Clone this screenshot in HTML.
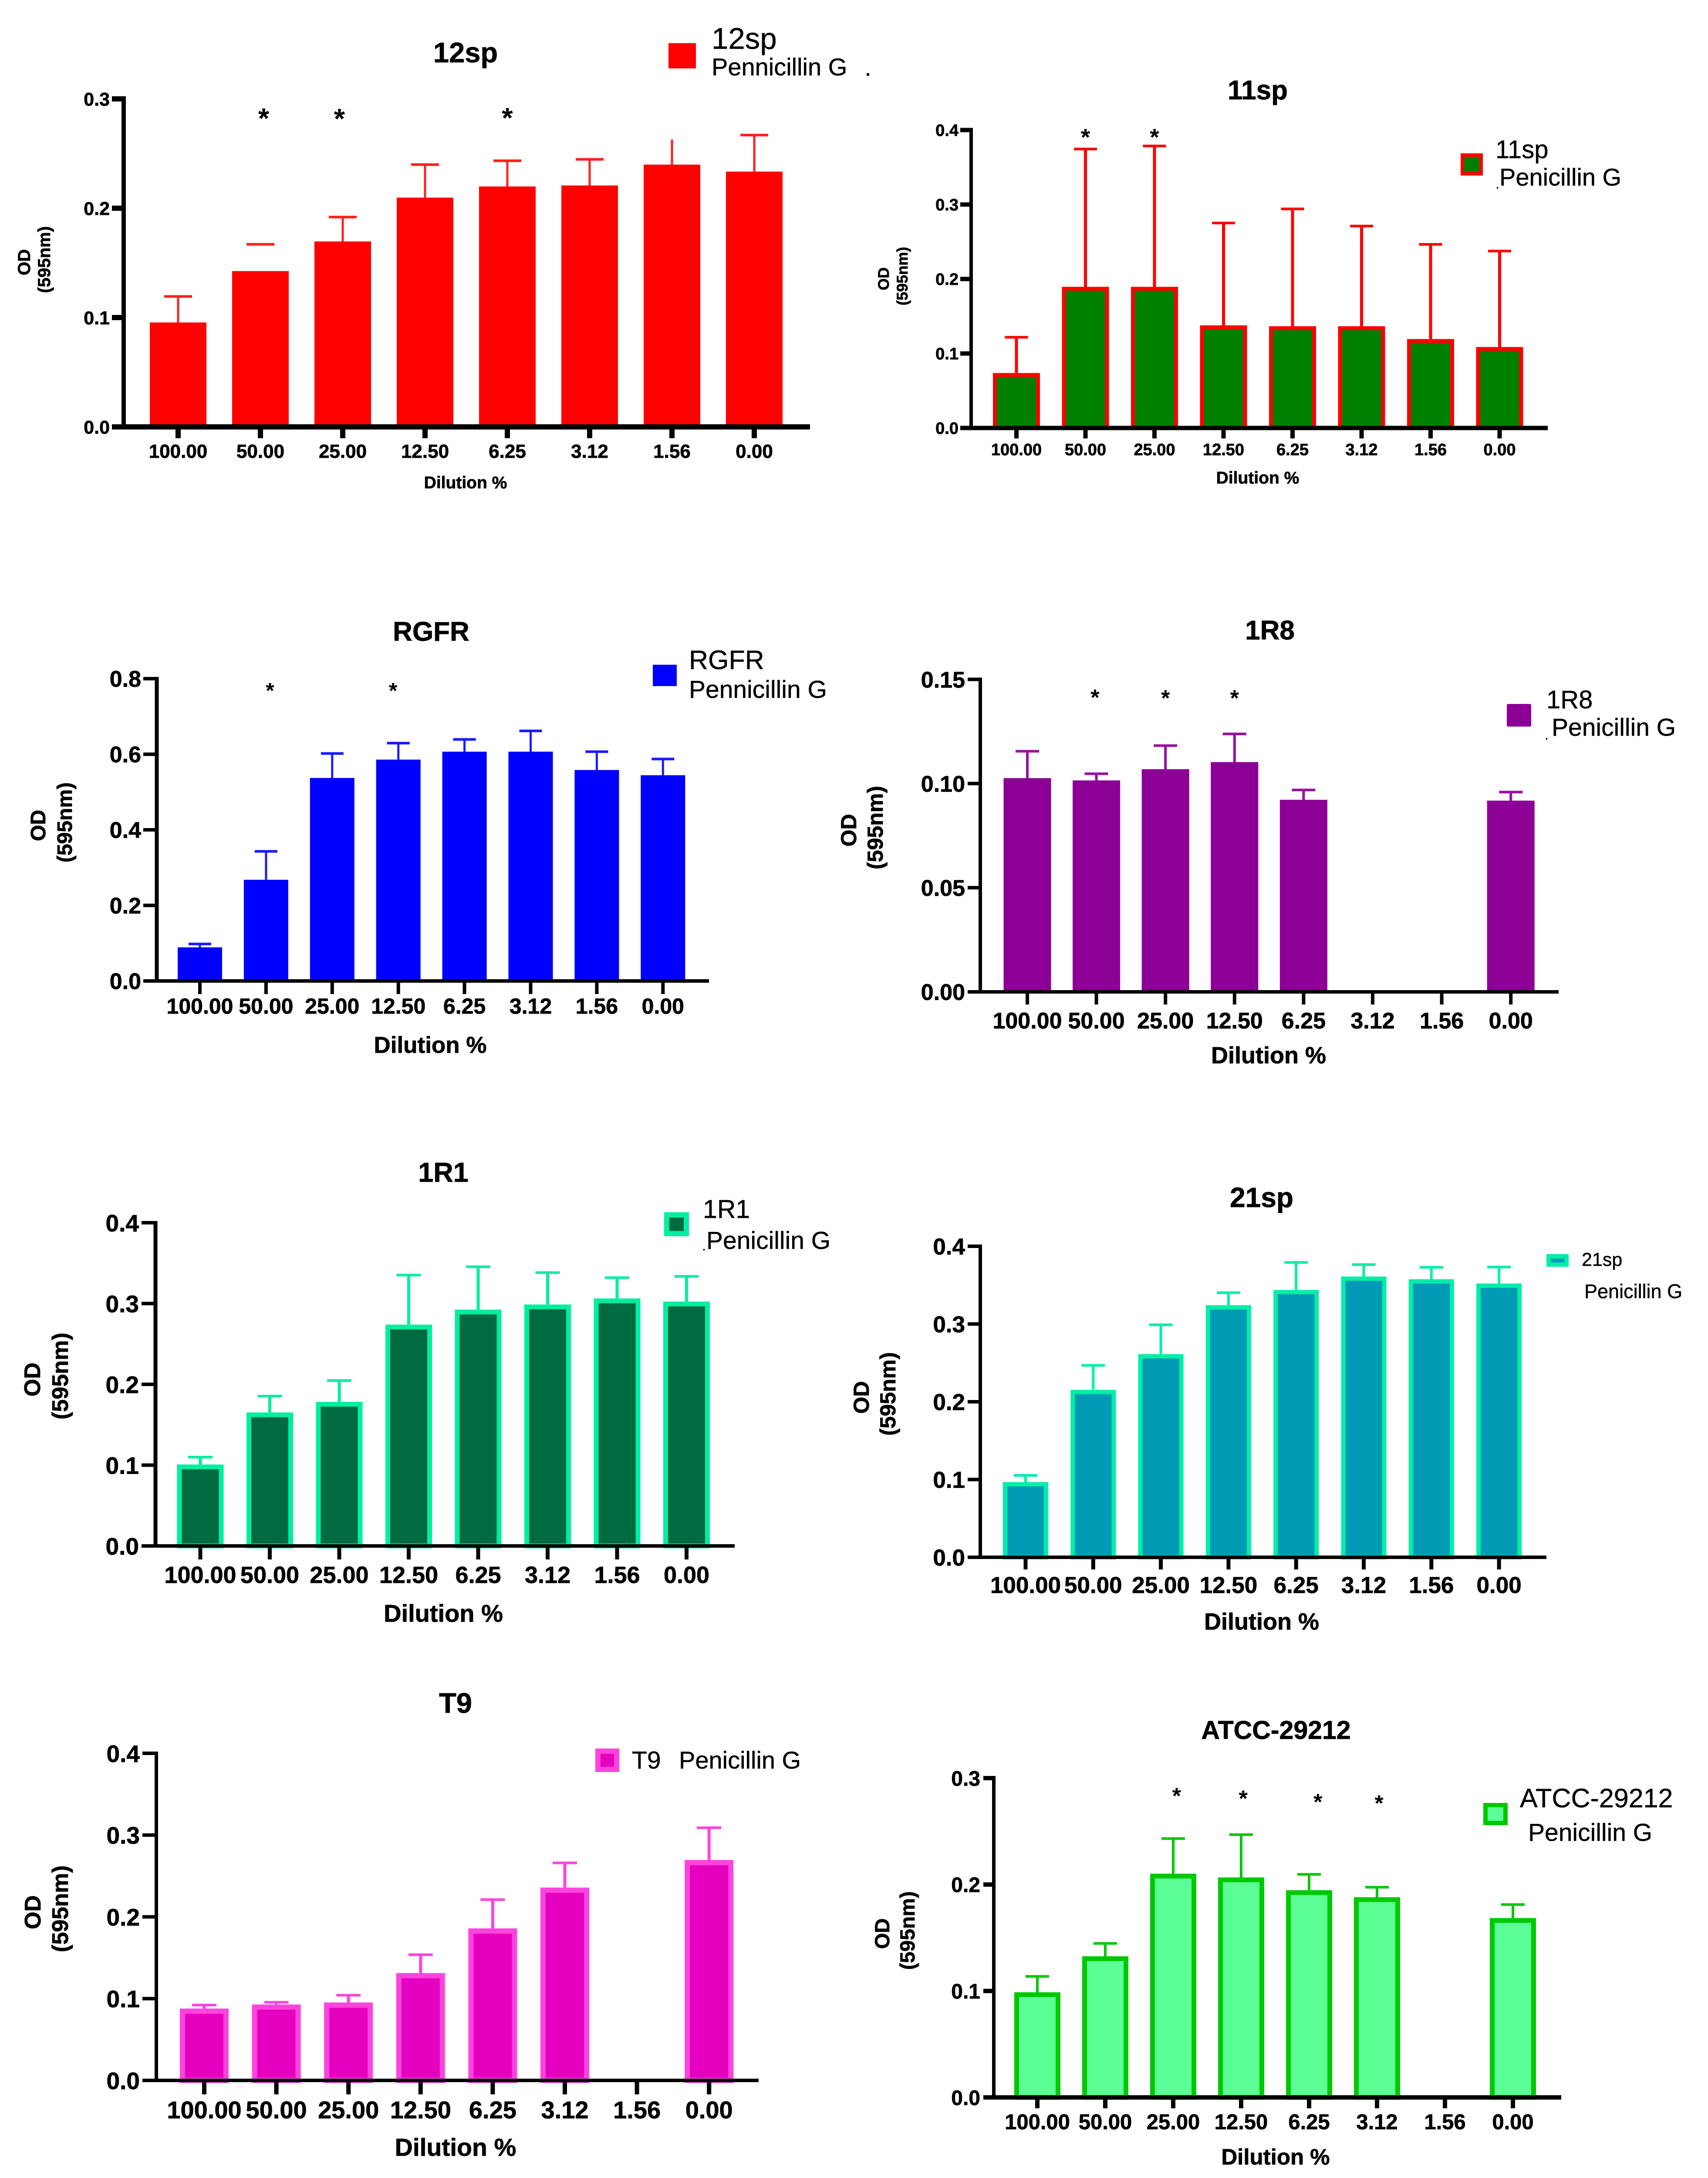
<!DOCTYPE html>
<html lang="en">
<head>
<meta charset="utf-8">
<title>OD versus dilution charts for Penicillin G</title>
<style>
html,body{margin:0;padding:0;background:#fff;width:3922px;height:4985px;overflow:hidden}
svg{display:block}
text{font-family:"Liberation Sans",Arial,sans-serif;fill:#000}
.b{font-weight:bold;stroke:#000;stroke-width:.8px}
.r{stroke:#000;stroke-width:.5px}
.m{text-anchor:middle}
</style>
</head>
<body>
<svg id="figure" xmlns="http://www.w3.org/2000/svg" width="3922" height="4985" viewBox="0 0 3922 4985">

<g id="panel-12sp">
  <text class="b m" x="1069" y="143" font-size="65">12sp</text>
  <text class="b m" font-size="40" transform="translate(69,602) rotate(-90)">OD</text>
  <text class="b m" font-size="40" transform="translate(115,596) rotate(-90)">(595nm)</text>
  <text class="b m" x="1069" y="1121" font-size="39">Dilution %</text>
  <rect x="1535" y="99" width="63" height="58" fill="#ff0000"/>
  <text class="r" x="1634" y="112" font-size="69">12sp</text>
  <text class="r" x="1634" y="173" font-size="56">Pennicillin G</text>
  <rect x="1990" y="168" width="6" height="6" fill="#000"/>
</g>

<g id="panel-11sp">
  <text class="b m" x="2888" y="228" font-size="62">11sp</text>
  <text class="b m" font-size="35" transform="translate(2041,640) rotate(-90)">OD</text>
  <text class="b m" font-size="35" transform="translate(2084,634) rotate(-90)">(595nm)</text>
  <text class="b m" x="2888" y="1110" font-size="39">Dilution %</text>
  <rect x="3358" y="356" width="43" height="43" fill="#008000" stroke="#ff0000" stroke-width="8"/>
  <text class="r" x="3434" y="363" font-size="58">11sp</text>
  <text class="r" x="3443" y="426" font-size="56">Penicillin G</text>
  <rect x="3437" y="429" width="3" height="4" fill="#000"/>
</g>

<g id="panel-rgfr">
  <text class="b m" x="990" y="1471" font-size="62">RGFR</text>
  <text class="b m" font-size="48" transform="translate(104,1895) rotate(-90)">OD</text>
  <text class="b m" font-size="48" transform="translate(165,1888) rotate(-90)">(595nm)</text>
  <text class="b m" x="988" y="2417" font-size="53">Dilution %</text>
  <rect x="1499" y="1526" width="55" height="49" fill="#0000ff"/>
  <text class="r" x="1582" y="1536" font-size="61">RGFR</text>
  <text class="r" x="1582" y="1602" font-size="57">Pennicillin G</text>
</g>

<g id="panel-1r8">
  <text class="b m" x="2916" y="1468" font-size="62">1R8</text>
  <text class="b m" font-size="50" transform="translate(1966,1906) rotate(-90)">OD</text>
  <text class="b m" font-size="50" transform="translate(2027,1900) rotate(-90)">(595nm)</text>
  <text class="b m" x="2913" y="2441" font-size="54">Dilution %</text>
  <rect x="3460" y="1616" width="56" height="52" rx="3" fill="#8c0095"/>
  <text class="r" x="3551" y="1626" font-size="58">1R8</text>
  <text class="r" x="3563" y="1689" font-size="57">Penicillin G</text>
  <rect x="3550" y="1694" width="3" height="4" fill="#000"/>
</g>

<g id="panel-1r1">
  <text class="b m" x="1018" y="2713" font-size="63">1R1</text>
  <text class="b m" font-size="52" transform="translate(92,3167) rotate(-90)">OD</text>
  <text class="b m" font-size="52" transform="translate(156,3159) rotate(-90)">(595nm)</text>
  <text class="b m" x="1018" y="3723" font-size="56">Dilution %</text>
  <rect x="1531" y="2789" width="45" height="43" fill="#006a40" stroke="#00ee9f" stroke-width="12"/>
  <text class="r" x="1614" y="2796" font-size="59">1R1</text>
  <text class="r" x="1622" y="2867" font-size="57">Penicillin G</text>
  <rect x="1615" y="2867" width="3" height="4" fill="#000"/>
</g>

<g id="panel-21sp">
  <text class="b m" x="2897" y="2771" font-size="64">21sp</text>
  <text class="b m" font-size="50" transform="translate(1995,3208) rotate(-90)">OD</text>
  <text class="b m" font-size="50" transform="translate(2056,3200) rotate(-90)">(595nm)</text>
  <text class="b m" x="2897" y="3741" font-size="54">Dilution %</text>
  <rect x="3556" y="2884" width="41" height="19" fill="#009ab5" stroke="#00eea8" stroke-width="10"/>
  <text class="r" x="3632" y="2906" font-size="43">21sp</text>
  <text class="r" x="3638" y="2980" font-size="45">Penicillin G</text>
</g>

<g id="panel-t9">
  <text class="b m" x="1046" y="3932" font-size="65">T9</text>
  <text class="b m" font-size="52" transform="translate(93,4390) rotate(-90)">OD</text>
  <text class="b m" font-size="52" transform="translate(156,4382) rotate(-90)">(595nm)</text>
  <text class="b m" x="1046" y="4949" font-size="57">Dilution %</text>
  <rect x="1373" y="4020" width="43" height="42" fill="#e500bf" stroke="#ff44dd" stroke-width="12"/>
  <text class="r" x="1451" y="4060" font-size="57">T9</text>
  <text class="r" x="1559" y="4060" font-size="56">Penicillin G</text>
</g>

<g id="panel-atcc">
  <text class="b m" x="2930" y="3992" font-size="59">ATCC-29212</text>
  <text class="b m" font-size="47" transform="translate(2042,4439) rotate(-90)">OD</text>
  <text class="b m" font-size="47" transform="translate(2100,4432) rotate(-90)">(595nm)</text>
  <text class="b m" x="2929" y="4969" font-size="51">Dilution %</text>
  <rect x="3411" y="4144" width="46" height="41" fill="#5cff96" stroke="#00c800" stroke-width="10"/>
  <text class="r" x="3490" y="4149" font-size="61">ATCC-29212</text>
  <text class="r" x="3509" y="4226" font-size="57">Penicillin G</text>
</g>
</svg>

<script>
// Shared categories
const dilutionCategories = ["100.00","50.00","25.00","12.50","6.25","3.12","1.56","0.00"];

// 12sp
const ticks12sp = ["0.0","0.1","0.2","0.3"];
const values12sp = [0.0955,0.1425,0.1696,0.2097,0.2199,0.2208,0.2399,0.2335];
const errorTops12sp = [0.1193,0.167,0.1919,0.2399,0.2434,0.2447,0.2628,0.2669];
const starCategories12sp = [1.04,1.96,4.0];
const starLevels12sp = [0.288,0.2876,0.2884];

// 11sp
const ticks11sp = ["0.0","0.1","0.2","0.3","0.4"];
const values11sp = [0.0738,0.1895,0.1895,0.1378,0.1366,0.1366,0.1194,0.1087];
const errorTops11sp = [0.1218,0.3745,0.3786,0.2752,0.2941,0.2711,0.2465,0.2375];
const starCategories11sp = [1,2];
const starLevels11sp = [0.398,0.398];

// RGFR
const ticksRGFR = ["0.0","0.2","0.4","0.6","0.8"];
const valuesRGFR = [0.089,0.2678,0.5372,0.5858,0.6068,0.6068,0.5583,0.5445];
const errorTopsRGFR = [0.0979,0.343,0.602,0.6294,0.6392,0.6618,0.6068,0.5874];
const starCategoriesRGFR = [1.06,2.92];
const starLevelsRGFR = [0.7816,0.7816];

// 1R8
const ticks1R8 = ["0.00","0.05","0.10","0.15"];
const values1R8 = [0.1026,0.1015,0.1069,0.1103,0.0922,null,null,0.0918];
const errorTops1R8 = [0.1155,0.1047,0.1182,0.1238,0.0969,null,null,0.0959];
const starCategories1R8 = [0.98,2,3];
const starLevels1R8 = [0.1438,0.1435,0.1435];

// 1R1
const ticks1R1 = ["0.0","0.1","0.2","0.3","0.4"];
const values1R1 = [0.1008,0.1652,0.1783,0.2739,0.2925,0.2988,0.3063,0.3024];
const errorTops1R1 = [0.1099,0.1854,0.2047,0.3352,0.3455,0.3383,0.332,0.3336];
const starCategories1R1 = [];
const starLevels1R1 = [];

// 21sp
const ticks21sp = ["0.0","0.1","0.2","0.3","0.4"];
const values21sp = [0.0967,0.2153,0.2613,0.3242,0.3438,0.3611,0.3576,0.3521];
const errorTops21sp = [0.1053,0.2468,0.299,0.3403,0.3792,0.3764,0.3729,0.3733];
const starCategories21sp = [];
const starLevels21sp = [];

// T9
const ticksT9 = ["0.0","0.1","0.2","0.3","0.4"];
const valuesT9 = [0.0879,0.0929,0.0953,0.1313,0.1859,0.2358,null,0.2695];
const errorTopsT9 = [0.0922,0.0956,0.1042,0.1537,0.2211,0.266,null,0.309];
const starCategoriesT9 = [];
const starLevelsT9 = [];

// ATCC-29212
const ticksATCC = ["0.0","0.1","0.2","0.3"];
const valuesATCC = [0.0988,0.1326,0.2102,0.2067,0.1947,0.1881,null,0.1685];
const errorTopsATCC = [0.1137,0.1447,0.2432,0.2469,0.2096,0.1975,null,0.1812];
const starCategoriesATCC = [2.05,3.03,4.13,5.03];
const starLevelsATCC = [0.2882,0.2857,0.2824,0.2812];

const SVGNS = "http://www.w3.org/2000/svg";

function shape(parent, tag, attrs, text) {
  const el = document.createElementNS(SVGNS, tag);
  Object.keys(attrs).forEach(function (k) { el.setAttribute(k, attrs[k]); });
  if (text !== undefined) el.textContent = text;
  parent.appendChild(el);
  return el;
}

function drawChart(f, categories, values, errorTops, yTicks, starCats, starLevels) {
  const root = document.getElementById(f.id);
  const yMax = parseFloat(yTicks[yTicks.length - 1]);
  const xScale = function (i) { return f.xFirst + i * f.xStep; };
  const yScale = function (v) { return f.yZero - (v / yMax) * (f.yZero - f.yTop); };

  const sw = f.strokeW;
  values.forEach(function (v, i) {
    if (v === null) return;
    const cx = xScale(i);
    const top = yScale(v);
    const etop = yScale(errorTops[i]);
    if (!(f.noStem || []).includes(i)) {
      const stem = shape(root, "line", {x1: cx, x2: cx, y1: top, y2: etop, stroke: f.errColor, "stroke-width": f.errW});
      
      
    }
    if (!(f.noCap || []).includes(i)) {
      const cap = shape(root, "rect", {x: cx - f.capW / 2, y: etop - f.capH / 2, width: f.capW, height: f.capH, fill: f.errColor});
      
      
    }
    const bar = shape(root, "rect", {
      x: cx - f.barW / 2 + sw / 2,
      y: top + sw / 2,
      width: f.barW - sw,
      height: Math.max(0, f.yZero - top - sw / 2),
      fill: f.fill,
      stroke: sw ? f.errColor : "none",
      "stroke-width": sw
    });
    
    
  });

  const yAxis = shape(root, "rect", {x: f.axisX - f.axisW / 2, y: f.yTop - f.baseW / 2, width: f.axisW, height: f.yZero - f.yTop + f.baseW, fill: "#000"});
  
  
  const xAxis = shape(root, "rect", {x: f.axisLeft, y: f.yZero - f.baseW / 2, width: f.axisRight - f.axisLeft, height: f.baseW, fill: "#000"});
  
  

  yTicks.forEach(function (t) {
    const y = yScale(parseFloat(t));
    const mark = shape(root, "rect", {x: f.axisLeft, y: y - f.baseW / 2, width: f.axisX - f.axisLeft, height: f.baseW, fill: "#000"});
    
    
    const label = shape(root, "text", {x: f.yLabelRight, y: y + 0.36 * f.yFont, "font-size": f.yFont, "font-weight": "bold", "text-anchor": "end", stroke: "#000", "stroke-width": 0.8}, t);
    
    
  });

  categories.forEach(function (c, i) {
    const cx = xScale(i);
    const mark = shape(root, "rect", {x: cx - f.tickW / 2, y: f.yZero, width: f.tickW, height: f.tickLen, fill: "#000"});
    
    
    const label = shape(root, "text", {x: cx, y: f.labelBase, "font-size": f.xFont, "font-weight": "bold", "text-anchor": "middle", stroke: "#000", "stroke-width": 0.8}, c);
    
    
  });

  starCats.forEach(function (c, i) {
    const star = shape(root, "text", {x: xScale(c), y: yScale(starLevels[i]) + 0.57 * f.starSize, "font-size": f.starSize, "font-weight": "bold", "text-anchor": "middle"}, "*");
    
    
  });
}

drawChart({id:"panel-12sp",xFirst:409,xStep:189,yZero:980,yTop:227,axisX:284,axisW:10,baseW:12,axisLeft:257,axisRight:1860,barW:130,strokeW:0,fill:"#ff0000",errColor:"#ff2020",errW:5,capW:64,capH:6,yLabelRight:252,yFont:43,xFont:44,labelBase:1051,starSize:65,tickW:12,tickLen:26,noStem:[1],noCap:[6]},
  dilutionCategories, values12sp, errorTops12sp, ticks12sp, starCategories12sp, starLevels12sp);

drawChart({id:"panel-11sp",xFirst:2334,xStep:158.5,yZero:982.5,yTop:298.5,axisX:2230,axisW:8,baseW:10,axisLeft:2205,axisRight:3554,barW:108,strokeW:9,fill:"#008000",errColor:"#ff0000",errW:7,capW:53,capH:6,yLabelRight:2201,yFont:38,xFont:38,labelBase:1045,starSize:55,tickW:10,tickLen:24},
  dilutionCategories, values11sp, errorTops11sp, ticks11sp, starCategories11sp, starLevels11sp);

drawChart({id:"panel-rgfr",xFirst:459,xStep:151.9,yZero:2252,yTop:1558,axisX:360,axisW:9,baseW:8,axisLeft:329,axisRight:1628,barW:102,strokeW:0,fill:"#0000ff",errColor:"#1a1aff",errW:5,capW:52,capH:6,yLabelRight:324,yFont:52,xFont:50,labelBase:2327,starSize:50,tickW:8,tickLen:30},
  dilutionCategories, valuesRGFR, errorTopsRGFR, ticksRGFR, starCategoriesRGFR, starLevelsRGFR);

drawChart({id:"panel-1r8",xFirst:2359,xStep:158.6,yZero:2277,yTop:1559.6,axisX:2251,axisW:8,baseW:8,axisLeft:2222,axisRight:3579,barW:109,strokeW:0,fill:"#8c0095",errColor:"#9a10a3",errW:6,capW:54,capH:6,yLabelRight:2216,yFont:52,xFont:52,labelBase:2361,starSize:52,tickW:8,tickLen:29},
  dilutionCategories, values1R8, errorTops1R8, ticks1R8, starCategories1R8, starLevels1R8);

drawChart({id:"panel-1r1",xFirst:460,xStep:159.5,yZero:3549,yTop:2807,axisX:357,axisW:9,baseW:8,axisLeft:325,axisRight:1687,barW:107,strokeW:11,fill:"#006a40",errColor:"#00ee9f",errW:7,capW:56,capH:6,yLabelRight:319,yFont:55,xFont:54,labelBase:3634,starSize:52,tickW:9,tickLen:31},
  dilutionCategories, values1R1, errorTops1R1, ticks1R1, starCategories1R1, starLevels1R1);

drawChart({id:"panel-21sp",xFirst:2355,xStep:155.3,yZero:3575,yTop:2861,axisX:2251,axisW:8,baseW:8,axisLeft:2222,axisRight:3551,barW:104,strokeW:10,fill:"#009ab5",errColor:"#00eea8",errW:6,capW:54,capH:6,yLabelRight:2216,yFont:53,xFont:53,labelBase:3657,starSize:52,tickW:9,tickLen:28},
  dilutionCategories, values21sp, errorTops21sp, ticks21sp, starCategories21sp, starLevels21sp);

drawChart({id:"panel-t9",xFirst:469,xStep:165.6,yZero:4776,yTop:4025,axisX:359,axisW:8,baseW:8,axisLeft:327,axisRight:1742,barW:112,strokeW:12,fill:"#e500bf",errColor:"#ff44dd",errW:7,capW:56,capH:6,yLabelRight:321,yFont:55,xFont:56,labelBase:4863,starSize:52,tickW:10,tickLen:32},
  dilutionCategories, valuesT9, errorTopsT9, ticksT9, starCategoriesT9, starLevelsT9);

drawChart({id:"panel-atcc",xFirst:2382,xStep:156,yZero:4815,yTop:4082,axisX:2282,axisW:8,baseW:10,axisLeft:2258,axisRight:3585,barW:106,strokeW:11,fill:"#5cff96",errColor:"#00c800",errW:6,capW:54,capH:6,yLabelRight:2251,yFont:48,xFont:49,labelBase:4888,starSize:52,tickW:10,tickLen:25},
  dilutionCategories, valuesATCC, errorTopsATCC, ticksATCC, starCategoriesATCC, starLevelsATCC);
</script>
</body>
</html>
